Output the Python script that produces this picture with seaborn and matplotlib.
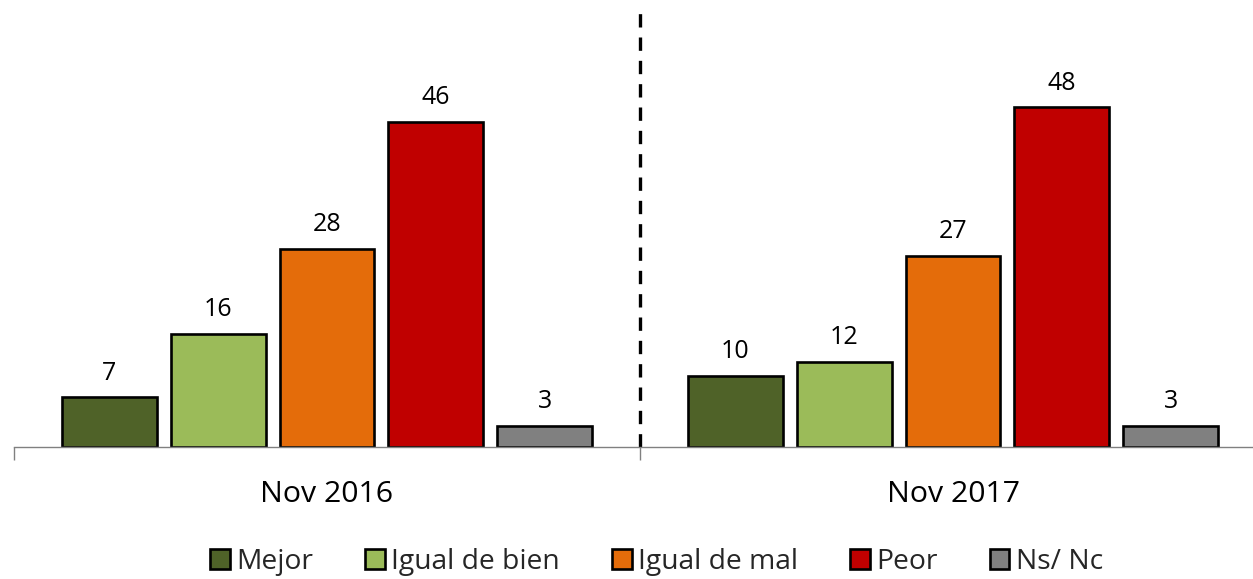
import matplotlib
matplotlib.use("Agg")
import matplotlib.pyplot as plt
from matplotlib.patches import Patch
import seaborn as sns
import pandas as pd

periods = ["Nov 2016", "Nov 2017"]
answers = ["Mejor", "Igual de bien", "Igual de mal", "Peor", "Ns/ Nc"]
values_2016 = [7, 16, 28, 46, 3]
values_2017 = [10, 12, 27, 48, 3]
colors = ["#4F6228", "#9BBB59", "#E46C0A", "#C00000", "#808080"]

df = pd.DataFrame({
    "period": [periods[0]] * len(answers) + [periods[1]] * len(answers),
    "answer": answers * 2,
    "value": values_2016 + values_2017,
})

sns.set_theme(style="white")
plt.rcParams["font.family"] = ["Open Sans", "DejaVu Sans"]

W, H = 1253, 579
fig = plt.figure(figsize=(W / 100, H / 100), dpi=100)
# Each period occupies 626 px; the right edge runs past the figure border
ax = fig.add_axes([14 / W, 132 / H, 1252 / W, 435 / H])

sns.barplot(data=df, x="period", y="value", hue="answer", order=periods,
            hue_order=answers, palette=colors, width=0.87, gap=0.128,
            edgecolor="black", linewidth=1.9, saturation=1, ax=ax,
            legend=False)

for cont in ax.containers:
    ax.bar_label(cont, fmt="%d", padding=8.5, fontsize=18, color="black")

ax.set_xlim(-0.5, 1.5)
ax.set_ylim(0, 61.5)
ax.set_xlabel("")
ax.set_ylabel("")
ax.set_yticks([])

for side in ["left", "right", "top"]:
    ax.spines[side].set_visible(False)
ax.spines["bottom"].set_color("#808080")
ax.spines["bottom"].set_linewidth(1.0)

# Category labels without marks; boundary marks as minor ticks
ax.tick_params(axis="x", which="major", length=0, pad=24, labelsize=21.8,
               labelcolor="black")
ax.set_xticks([-0.5, 0.5, 1.5], minor=True)
ax.tick_params(axis="x", which="minor", length=9.5, width=1.0,
               color="#808080", direction="out", bottom=True)

# Dashed separator between the two periods
ax.axvline(0.5, ymin=0, ymax=1, color="black", linewidth=2.4,
           linestyle=(0, (4, 3)), clip_on=False)

handles = [Patch(facecolor=c, edgecolor="black", linewidth=1.9) for c in colors]
fig.legend(handles, answers, loc="center", bbox_to_anchor=(656.5 / W, 1 - 562 / H),
           ncol=5, frameon=False, fontsize=20.3, handlelength=0.7,
           handleheight=0.7, handletextpad=0.22, columnspacing=1.85)

fig.savefig("out.png", dpi=100)
